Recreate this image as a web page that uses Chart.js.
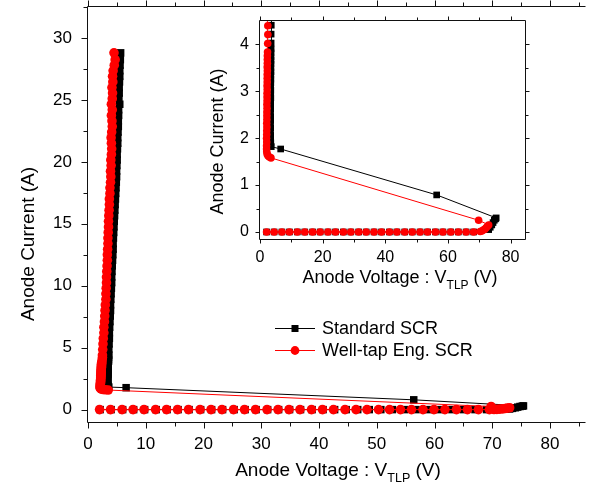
<!DOCTYPE html>
<html><head><meta charset="utf-8">
<script src="https://cdn.jsdelivr.net/npm/chart.js@4/dist/chart.umd.min.js"></script>
<style>
html,body{margin:0;padding:0;background:#fff;}
#wrap{position:relative;width:590px;height:483px;overflow:hidden;}
#main{position:absolute;left:0;top:0;}
#inset{position:absolute;left:200px;top:10px;}
</style></head><body>
<div id="wrap"><canvas id="main" width="590" height="483"></canvas><canvas id="inset" width="330" height="290"></canvas></div>
<script>
const seriesNames = ['Standard SCR', 'Well-tap Eng. SCR'];
const seriesColors = ['#000000', '#ff0000'];

// off-state (main plot)
const stdOffV = [2.1,4.0,6.0,7.9,9.8,11.8,13.7,15.6,17.5,19.5,21.4,23.3,25.3,27.2,29.1,31.1,33.0,34.9,36.8,38.8,40.7,42.7,44.7,46.7,48.7,50.7,52.7,54.8,56.8,58.9,60.9,63.0,65.0,67.0,69.0,70.8,72.3];
const stdOffI = [0,0,0,0,0,0,0,0,0,0,0,0,0,0,0,0,0,0,0,0,0,0,0,0,0,0,0,0,0,0,0,0,0,0,0,0.01,0.03];
const wellOffV = [2.0,3.9,5.9,7.8,9.7,11.7,13.6,15.5,17.4,19.4,21.3,23.2,25.2,27.1,29.0,31.0,32.9,34.8,36.7,38.7,40.6,42.5,44.5,46.4,48.3,50.3,52.2,54.1,56.0,58.0,59.9,61.8,63.8,65.7,67.6,69.5];
const wellOffI = [0,0,0,0,0,0,0,0,0,0,0,0,0,0,0,0,0,0,0,0,0,0,0,0,0,0,0,0,0,0,0,0,0,0,0,0];

// off-state (inset plot, sampled as shown there)
const insetOffV = [2.1,4.5,7.0,9.4,11.9,14.3,16.8,19.2,21.7,24.1,26.6,29.0,31.5,33.9,36.4,38.8,41.3,43.7,46.2,48.6,51.1,53.5,56.0,58.4,60.9,63.3,65.8,68.2];
const insetOffI = [0,0,0,0,0,0,0,0,0,0,0,0,0,0,0,0,0,0,0,0,0,0,0,0,0,0,0,0];

// trigger and snapback
const stdTrigV = [73.0,73.5,74.0,74.4,74.8,75.2,75.4,56.4,6.6];
const stdTrigI = [0.05,0.10,0.15,0.20,0.25,0.28,0.30,0.79,1.77];
const wellTrigV = [70.3,70.8,71.3,71.8,72.2,72.6,73.0,69.8];
const wellTrigI = [0.01,0.02,0.04,0.06,0.09,0.12,0.15,0.25];

// on-state (holding) branch
const stdOnV = [3.6,
 3.45,3.4,3.4,3.35,3.4,3.35,3.4,3.4,3.35,3.4,3.4,3.4,3.45,3.4,3.45,3.4,3.45,3.45,3.45,3.5,3.45,3.5,3.5,3.5,3.5,3.55,
 3.55,3.55,3.6,
 3.6,3.65,3.7,3.7,3.75,3.8,3.85,3.9,3.9,3.95,4.0,4.05,4.1,4.1,4.15,4.2,4.25,4.3,4.35,4.35,4.4,4.45,4.5,4.55,4.6,4.65,4.7,4.75,4.8,4.85,4.9,4.95,4.95,5.0,5.05,5.05,5.1,5.15,5.15,5.2,5.25,5.25,5.3,5.3,5.5,5.35,5.4,5.4,5.45,5.5,5.5,5.55,5.6,5.65];
const stdOnI = [1.82,
 1.90,1.98,2.06,2.14,2.22,2.30,2.38,2.46,2.54,2.62,2.70,2.78,2.86,2.94,3.02,3.10,3.18,3.26,3.34,3.42,3.50,3.58,3.66,3.74,3.82,3.90,
 4.03,4.22,4.41,
 4.85,5.3,5.75,6.2,6.65,7.1,7.55,8.0,8.45,8.9,9.35,9.8,10.25,10.7,11.15,11.6,12.05,12.5,12.95,13.4,13.85,14.3,14.75,15.2,15.65,16.1,16.55,17.0,17.45,17.9,18.35,18.8,19.25,19.7,20.15,20.6,21.05,21.5,21.95,22.4,22.85,23.3,23.75,24.2,24.65,25.1,25.55,26.0,26.45,26.9,27.35,27.8,28.25,28.8];
const wellOnV = [3.5,3.0,2.6,2.3,2.15,
 2.1,2.1,2.15,2.1,2.15,2.15,2.2,2.15,2.2,2.2,2.2,2.25,2.2,2.25,2.25,2.25,2.3,2.25,2.3,2.3,2.3,2.35,2.3,2.35,2.35,2.35,2.4,
 2.45,2.5,2.5,
 2.55,2.6,2.65,2.75,2.75,2.85,2.9,2.95,3.0,3.1,3.1,3.15,3.2,3.2,3.25,3.3,3.35,3.35,3.4,3.45,3.45,3.5,3.55,3.55,3.6,3.65,3.7,3.7,3.8,3.8,3.9,3.95,3.9,4.0,3.95,4.05,4.1,4.05,4.0,4.1,4.2,4.15,4.05,4.2,4.05,4.2,4.25,4.15,4.3,4.25,4.35,4.55,4.7,4.5];
const wellOnI = [1.58,1.60,1.62,1.66,1.71,
 1.77,1.84,1.92,2.00,2.08,2.16,2.24,2.32,2.40,2.48,2.56,2.64,2.72,2.80,2.88,2.96,3.04,3.12,3.20,3.28,3.36,3.44,3.52,3.60,3.68,3.76,3.84,
 4.02,4.21,4.40,
 4.85,5.3,5.75,6.2,6.65,7.1,7.55,8.0,8.45,8.9,9.35,9.8,10.25,10.7,11.15,11.6,12.05,12.5,12.95,13.4,13.85,14.3,14.75,15.2,15.65,16.1,16.55,17.0,17.45,17.9,18.35,18.8,19.25,19.7,20.15,20.6,21.05,21.5,21.95,22.4,22.85,23.3,23.75,24.2,24.65,25.1,25.55,26.0,26.45,26.9,27.35,27.8,28.25,28.8];

// axis ticks
const mainXTicks = [0,10,20,30,40,50,60,70,80];
const mainXMinor = [5,15,25,35,45,55,65,75,85];
const mainYTicks = [0,5,10,15,20,25,30];
const mainYMinor = [2.5,7.5,12.5,17.5,22.5,27.5,32.5];
const insetXTicks = [0,20,40,60,80];
const insetXMinor = [10,30,50,70];
const insetYTicks = [0,1,2,3,4];
const insetYMinor = [0.5,1.5,2.5,3.5];

const FONT = '"Liberation Sans", Arial, sans-serif';
const pts = (V, I) => V.map((v, i) => ({x: v, y: I[i]}));

function drawTitle(ctx, cx, cy, parts, size, subSize, rot) {
  ctx.save();
  ctx.translate(cx, cy);
  if (rot) ctx.rotate(rot);
  const widths = parts.map(([t, s]) => { ctx.font = (s ? subSize : size) + 'px ' + FONT; return ctx.measureText(t).width; });
  let x = -widths.reduce((a, b) => a + b, 0) / 2;
  const base = size * 0.36;
  ctx.fillStyle = '#000'; ctx.textAlign = 'left'; ctx.textBaseline = 'alphabetic';
  parts.forEach(([t, s], i) => {
    ctx.font = (s ? subSize : size) + 'px ' + FONT;
    ctx.fillText(t, x, s ? base + size * 0.3 : base);
    x += widths[i];
  });
  ctx.restore();
}

function frame(chart, o) {
  const {ctx, chartArea: a, scales: {x, y}} = chart;
  ctx.save();
  ctx.strokeStyle = '#111'; ctx.lineWidth = 1;
  const L = Math.round(a.left) - 0.5, R = Math.round(a.right) + 0.5, T = Math.round(a.top) - 0.5, B = Math.round(a.bottom) + 0.5;
  ctx.beginPath();
  ctx.moveTo(L, T); ctx.lineTo(L, B); ctx.lineTo(R, B);
  ctx.moveTo(L, T); ctx.lineTo(R, T);
  if (o.right) { ctx.moveTo(R, T); ctx.lineTo(R, B); }
  const xt = (vals, len) => vals.forEach(v => {
    if (v < x.min || v > x.max) return;
    const p = Math.round(x.getPixelForValue(v)) + 0.5;
    ctx.moveTo(p, B); ctx.lineTo(p, B + len);
    ctx.moveTo(p, T); ctx.lineTo(p, T - len);
  });
  const yt = (vals, len) => vals.forEach(v => {
    if (v < y.min || v > y.max) return;
    const p = Math.round(y.getPixelForValue(v)) + 0.5;
    ctx.moveTo(L, p); ctx.lineTo(L - len, p);
    if (o.right) { ctx.moveTo(R, p); ctx.lineTo(R + len, p); }
  });
  xt(o.xMaj, o.maj); xt(o.xMin, o.min);
  yt(o.yMaj, o.maj); yt(o.yMin, o.min);
  ctx.stroke();
  ctx.restore();
}

function ds(label, color, data, shape, r, order, clip) {
  const d = {label, data, showLine: true, borderColor: color, borderWidth: 1,
    backgroundColor: color, pointBackgroundColor: color, pointBorderColor: color, pointBorderWidth: 0,
    pointStyle: shape, pointRadius: r, pointHoverRadius: r, order, tension: 0};
  if (clip !== undefined) d.clip = clip;
  return d;
}

function axisOpts(min, max, ticks, pad, size, key, val) {
  return {type: 'linear', min, max,
    afterBuildTicks: s => { s.ticks = ticks.map(v => ({value: v})); },
    afterFit: s => { s[key] = val; s.paddingTop = 0; s.paddingBottom = 0; s.paddingLeft = 0; s.paddingRight = 0; },
    grid: {display: false}, border: {display: false},
    ticks: {padding: pad, color: '#000', font: {family: FONT, size}, autoSkip: false, maxRotation: 0, minRotation: 0}};
}

// ---- main chart ----
const mainStd = [...pts(stdOffV, stdOffI), ...pts(stdTrigV, stdTrigI), ...pts(stdOnV, stdOnI)];
const mainWell = [...pts(wellOffV, wellOffI), ...pts(wellTrigV, wellTrigI), ...pts(wellOnV, wellOnI)];

new Chart(document.getElementById('main'), {
  type: 'scatter',
  data: {datasets: [
    ds(seriesNames[0], seriesColors[0], mainStd, 'rect', 5.3, 2, false),
    ds(seriesNames[1], seriesColors[1], mainWell, 'circle', 4.8, 1, false)
  ]},
  options: {
    responsive: false, animation: false, devicePixelRatio: 1,
    layout: {padding: {left: 0, top: 7, right: 0, bottom: 0}},
    plugins: {legend: {display: false}, tooltip: {enabled: false}},
    scales: {
      x: axisOpts(0, 86, mainXTicks, 4, 17, 'height', 61),
      y: axisOpts(-1, 32.5, mainYTicks, 8, 17, 'width', 88)
    }
  },
  plugins: [{id: 'deco', afterDraw(chart) {
    frame(chart, {right: false, xMaj: mainXTicks, xMin: mainXMinor, yMaj: mainYTicks, yMin: mainYMinor, maj: 6, min: 4});
    const ctx = chart.ctx;
    drawTitle(ctx, 338, 469, [['Anode Voltage : V', false], ['TLP', true], [' (V)', false]], 19, 12.5, 0);
    drawTitle(ctx, 27, 244, [['Anode Current (A)', false]], 19, 12, -Math.PI / 2);
    // legend
    ctx.save();
    const rows = [[328, 'rect'], [350, 'circle']];
    rows.forEach(([yy, shape], i) => {
      ctx.strokeStyle = seriesColors[i]; ctx.fillStyle = seriesColors[i]; ctx.lineWidth = 1;
      ctx.beginPath(); ctx.moveTo(275, yy + 0.5); ctx.lineTo(315, yy + 0.5); ctx.stroke();
      if (shape === 'rect') ctx.fillRect(291.5, yy - 3, 7, 7);
      else { ctx.beginPath(); ctx.arc(295, yy + 0.5, 4.4, 0, Math.PI * 2); ctx.fill(); }
      ctx.fillStyle = '#000'; ctx.font = '18px ' + FONT; ctx.textAlign = 'left'; ctx.textBaseline = 'middle';
      ctx.fillText(seriesNames[i], 322, yy + 1);
    });
    ctx.restore();
  }}]
});

// ---- inset chart ----
const insetStd = [...pts(insetOffV, insetOffI), ...pts(stdTrigV, stdTrigI), ...pts(stdOnV, stdOnI)];
const insetWell = [...pts(insetOffV, insetOffI), ...pts(wellTrigV, wellTrigI), ...pts(wellOnV, wellOnI)];

new Chart(document.getElementById('inset'), {
  type: 'scatter',
  data: {datasets: [
    ds(seriesNames[0], seriesColors[0], insetStd, 'rect', 4.7, 2, 0),
    ds(seriesNames[1], seriesColors[1], insetWell, 'circle', 3.8, 1, 0)
  ]},
  options: {
    responsive: false, animation: false, devicePixelRatio: 1,
    layout: {padding: {left: 0, top: 11, right: 5, bottom: 0}},
    plugins: {legend: {display: false}, tooltip: {enabled: false}},
    scales: {
      x: axisOpts(0, 84.6, insetXTicks, 1, 16, 'height', 61),
      y: axisOpts(-0.15, 4.5, insetYTicks, 3, 16, 'width', 60)
    }
  },
  plugins: [{id: 'bg', beforeDraw(chart) {
      const {ctx, chartArea: a} = chart;
      ctx.save(); ctx.fillStyle = '#fff'; ctx.fillRect(a.left, a.top, a.right - a.left, a.bottom - a.top); ctx.restore();
    }, afterDraw(chart) {
    const {ctx} = chart;
    frame(chart, {right: true, xMaj: insetXTicks, xMin: insetXMinor, yMaj: insetYTicks, yMin: insetYMinor, maj: 4, min: 3});
    drawTitle(ctx, 200, 267, [['Anode Voltage : V', false], ['TLP', true], [' (V)', false]], 18, 12, 0);
    drawTitle(ctx, 16.5, 131.5, [['Anode Current (A)', false]], 18, 12, -Math.PI / 2);
  }}]
});
</script>
</body></html>
